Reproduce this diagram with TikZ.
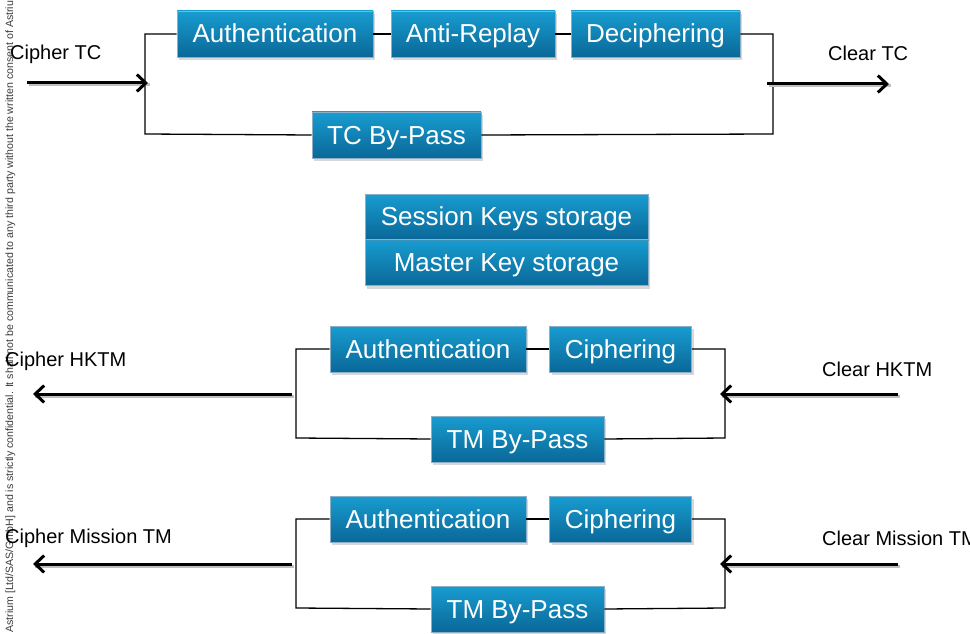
\documentclass[tikz,border=0pt]{standalone}
\usepackage{fontspec}
\setmainfont{Liberation Sans}
\usetikzlibrary{arrows.meta,shadows}
\definecolor{boxtop}{RGB}{24,156,208}
\definecolor{boxbot}{RGB}{10,104,152}
\definecolor{boxedge}{RGB}{140,175,200}
\definecolor{notegray}{RGB}{60,60,60}
\begin{document}
\begin{tikzpicture}[x=1pt,y=-1pt,
  blk/.style={draw=boxedge, line width=0.6pt, top color=boxtop, bottom color=boxbot,
    text=white, font=\fontsize{26}{30}\selectfont, inner sep=0pt,
    text height=24pt, text depth=6pt,
    drop shadow={shadow xshift=2pt, shadow yshift=-3pt, opacity=0.3}},
  wire/.style={line width=1.3pt, black},
  bigarrow/.style={line width=3pt, -{Straight Barb[length=9pt,width=17pt,line width=3pt]},
    preaction={draw=black!25, line width=3pt, transform canvas={xshift=1.5pt,yshift=-2pt}, -}},
  lbl/.style={font=\fontsize{20}{24}\selectfont, inner sep=0pt, anchor=base west}]
\clip (0,0) rectangle (970,634);
\fill[white] (0,0) rectangle (970,634);

% confidentiality note
\node[font=\fontsize{10.6}{12}\selectfont, text=notegray, rotate=90, anchor=base west, inner sep=0pt] (note) at (13,633)
  {Astrium [Ltd/SAS/GmbH] and is strictly confidential. It shall not be communicated to any third party without the written consent of Astrium};

% ---------------- TC chain ----------------
\node[blk, minimum width=196pt, minimum height=46pt] (auth1) at (275,34) {Authentication};
\node[blk, minimum width=164pt, minimum height=46pt] (antirep) at (473,34) {Anti-Replay};
\node[blk, minimum width=169pt, minimum height=46pt] (deciph) at (655.5,34) {Deciphering};
\node[blk, minimum width=169pt, minimum height=46pt] (tcbp) at (396.5,135) {TC By-Pass};

\draw[wire] (auth1.west) -| (145,134) -- (tcbp.west);
\draw[wire] (auth1) -- (antirep);
\draw[wire] (antirep) -- (deciph);
\draw[wire] (deciph.east) -| (773,134) -- (tcbp.east);

\coordinate (tcin) at (27,83);
\coordinate (tcout) at (889,84);
\draw[bigarrow] (tcin) -- (148,83);
\draw[bigarrow] (767,84) -- (tcout);
\node[lbl] (ciphertc) at (10,60) {Cipher TC};
\node[lbl] (cleartc) at (828,61) {Clear TC};

% ---------------- key storage ----------------
\node[blk, minimum width=283pt, minimum height=46pt] (master) at (506.5,262.5) {Master Key storage};
\node[blk, minimum width=283pt, minimum height=45pt] (session) at (506.5,216.5) {Session Keys storage};

% ---------------- HKTM chain ----------------
\node[blk, minimum width=196pt, minimum height=46pt] (auth2) at (428,349) {Authentication};
\node[blk, minimum width=142pt, minimum height=46pt] (ciph2) at (620.5,349) {Ciphering};
\node[blk, minimum width=173pt, minimum height=46pt] (tmbp2) at (517.5,439) {TM By-Pass};

\draw[wire] (auth2.west) -| (296,438) -- (tmbp2.west);
\draw[wire] (auth2) -- (ciph2);
\draw[wire] (ciph2.east) -| (725,438) -- (tmbp2.east);

\coordinate (hkout) at (33,394);
\coordinate (hkin) at (898,394);
\draw[bigarrow] (292,394) -- (hkout);
\draw[bigarrow] (hkin) -- (720,394);
\node[lbl] (cipherhk) at (5,366) {Cipher HKTM};
\node[lbl] (clearhk) at (822,376) {Clear HKTM};

% ---------------- Mission TM chain ----------------
\node[blk, minimum width=196pt, minimum height=46pt] (auth3) at (428,519) {Authentication};
\node[blk, minimum width=142pt, minimum height=46pt] (ciph3) at (620.5,519) {Ciphering};
\node[blk, minimum width=173pt, minimum height=46pt] (tmbp3) at (517.5,609) {TM By-Pass};

\draw[wire] (auth3.west) -| (296,608) -- (tmbp3.west);
\draw[wire] (auth3) -- (ciph3);
\draw[wire] (ciph3.east) -| (725,608) -- (tmbp3.east);

\coordinate (msout) at (33,564);
\coordinate (msin) at (898,564);
\draw[bigarrow] (292,564) -- (msout);
\draw[bigarrow] (msin) -- (720,564);
\node[lbl] (ciphermis) at (5,543) {Cipher Mission TM};
\node[lbl] (clearmis) at (822,545) {Clear Mission TM};
\end{tikzpicture}
\end{document}
